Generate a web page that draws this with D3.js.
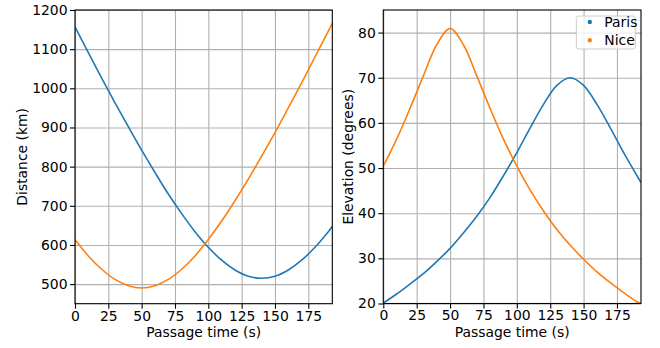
<!DOCTYPE html>
<html>
<head>
<meta charset="utf-8">
<script src="https://cdn.jsdelivr.net/npm/d3@7"></script>
<style>
body{margin:0;background:#fff;}
svg{display:block;font-family:"DejaVu Sans",sans-serif;}
</style>
</head>
<body>
<script>
"use strict";

// passage times (s) and the values
var times = [0,10,20,30,40,50,60,70,80,90,100,110,120,130,140,150,160,170,180,190,193];
var parisDistance = [1157,1091,1026,963,902,842,785,730,680,634,594,561,536,520,515,520,536,561,594,634,647];
var niceDistance = [614,572,538,512,496,490,496,512,538,572,614,661,713,768,827,887,950,1014,1080,1146,1166];
var parisElevation = [20.1,22.1,24.3,26.6,29.3,32.2,35.6,39.3,43.5,48.3,53.4,58.9,64.1,68.3,70.0,68.3,64.1,58.9,53.4,48.3,46.8];
var niceElevation = [50.4,56.4,63.2,70.4,77.3,80.9,77.3,70.4,63.2,56.4,50.4,45.1,40.5,36.4,32.9,29.8,27.0,24.6,22.4,20.4,20.0];

var seriesNames = ["Paris", "Nice"];
var seriesColors = ["#1f77b4", "#ff7f0e"];
var timeTicks = [0,25,50,75,100,125,150,175];
var distanceTicks = [500,600,700,800,900,1000,1100,1200];
var elevationTicks = [20,30,40,50,60,70,80];

var width = 660, height = 348;
var fontSize = 13.9;

var svg = d3.select("body").append("svg").attr("width", width).attr("height", height);

function drawPanel(id, box, yDomain, yTicks, series, yLabel, yLabelX){
    var x = d3.scaleLinear().domain([0, 193]).range([0, box.w]);
    var y = d3.scaleLinear().domain(yDomain).range([box.h, 0]);
    var g = svg.append("g").attr("transform", "translate(" + box.x + "," + box.y + ")");

    g.append("clipPath").attr("id", id).append("rect").attr("width", box.w).attr("height", box.h);

    // grid
    g.append("g").attr("class", "grid")
        .attr("transform", "translate(0," + box.h + ")")
        .call(d3.axisBottom(x).tickValues(timeTicks).tickSize(-box.h).tickFormat(""));
    g.append("g").attr("class", "grid")
        .call(d3.axisLeft(y).tickValues(yTicks).tickSize(-box.w).tickFormat(""));
    g.selectAll(".grid .domain").remove();
    g.selectAll(".grid line").attr("stroke", "#b0b0b0").attr("stroke-width", 1.1);

    var line = d3.line()
        .x(function(d){ return x(d[0]); })
        .y(function(d){ return y(d[1]); })
        .curve(d3.curveCatmullRom.alpha(0.5));

    series.forEach(function(values, i){
        g.append("path")
            .datum(times.map(function(t, k){ return [t, values[k]]; }))
            .attr("clip-path", "url(#" + id + ")")
            .attr("fill", "none")
            .attr("stroke", seriesColors[i])
            .attr("stroke-width", 1.6)
            .attr("d", line);
    });

    var xAxis = g.append("g")
        .attr("transform", "translate(0," + box.h + ")")
        .call(d3.axisBottom(x).tickValues(timeTicks).tickFormat(d3.format("d")).tickSize(5).tickPadding(2).tickSizeOuter(0));
    var yAxis = g.append("g")
        .call(d3.axisLeft(y).tickValues(yTicks).tickFormat(d3.format("d")).tickSize(5).tickPadding(2.5).tickSizeOuter(0));
    [xAxis, yAxis].forEach(function(a){
        a.select(".domain").remove();
        a.selectAll("line").attr("stroke", "#000").attr("stroke-width", 1.1);
        a.selectAll("text").attr("fill", "#000").style("font-size", fontSize + "px").style("font-family", "DejaVu Sans");
    });

    g.append("rect").attr("width", box.w).attr("height", box.h)
        .attr("fill", "none").attr("stroke", "#000").attr("stroke-width", 1.1);

    g.append("text")
        .attr("x", box.w / 2).attr("y", 337 - box.y)
        .attr("text-anchor", "middle")
        .style("font-size", fontSize + "px")
        .text("Passage time (s)");

    g.append("text")
        .attr("transform", "translate(" + (yLabelX - box.x) + "," + (box.h / 2) + ") rotate(-90)")
        .attr("text-anchor", "middle")
        .style("font-size", fontSize + "px")
        .text(yLabel);

    return g;
}

drawPanel("clipLeft", {x: 75, y: 10, w: 257.3, h: 293.7}, [450, 1200], distanceTicks,
    [parisDistance, niceDistance], "Distance (km)", 27);

var right = drawPanel("clipRight", {x: 383.3, y: 10, w: 257.7, h: 293.5}, [20, 85], elevationTicks,
    [parisElevation, niceElevation], "Elevation (degrees)", 353);

// legend
var legend = right.append("g").attr("transform", "translate(193,6)");
legend.append("rect")
    .attr("width", 59).attr("height", 33).attr("rx", 2.5)
    .attr("fill", "#fff").attr("fill-opacity", 0.8)
    .attr("stroke", "#cccccc").attr("stroke-width", 1);
seriesNames.forEach(function(name, i){
    legend.append("circle").attr("cx", 13.5).attr("cy", 6 + i * 18.3).attr("r", 2.2).attr("fill", seriesColors[i]);
    legend.append("text").attr("x", 28).attr("y", 6 + i * 18.3).attr("dy", "0.36em")
        .style("font-size", fontSize + "px").text(name);
});
</script>
</body>
</html>
